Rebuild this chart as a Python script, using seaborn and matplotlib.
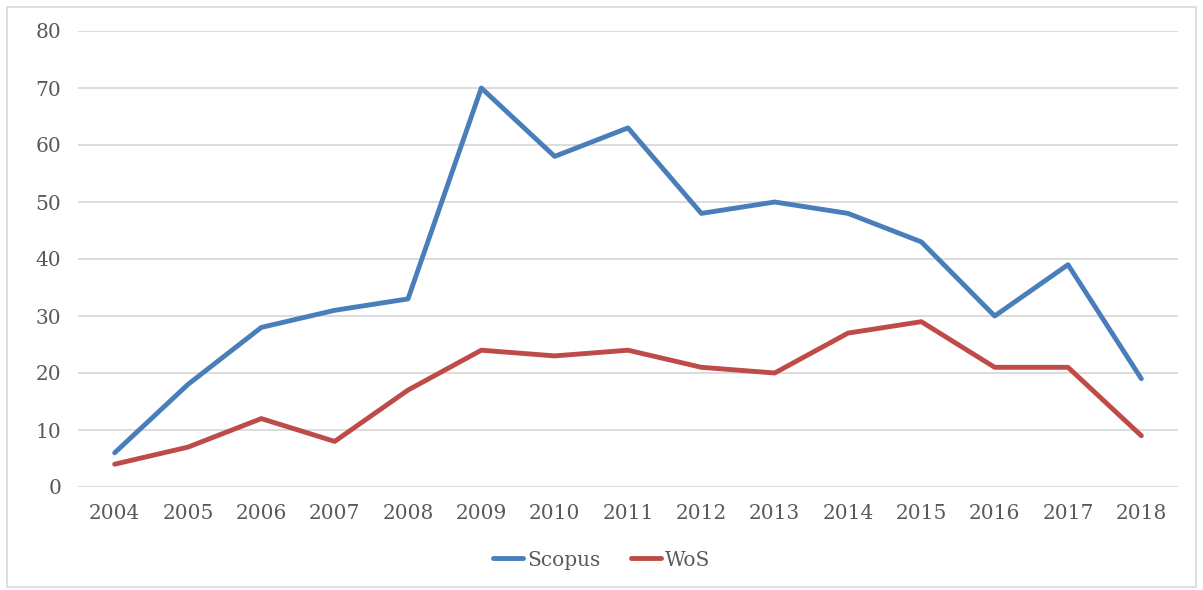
import numpy as np
import pandas as pd
import matplotlib
matplotlib.use("Agg")
import matplotlib.pyplot as plt
from matplotlib.patches import Rectangle
import seaborn as sns

years = ["2004", "2005", "2006", "2007", "2008", "2009", "2010", "2011",
         "2012", "2013", "2014", "2015", "2016", "2017", "2018"]
scopus = [6, 18, 28, 31, 33, 70, 58, 63, 48, 50, 48, 43, 30, 39, 19]
wos = [4, 7, 12, 8, 17, 24, 23, 24, 21, 20, 27, 29, 21, 21, 9]
series_names = ["Scopus", "WoS"]
colors = ["#4a7ebb", "#be4b48"]
y_ticks = [0, 10, 20, 30, 40, 50, 60, 70, 80]

df = pd.DataFrame({
    "pos": list(range(len(years))) * 2,
    "value": scopus + wos,
    "source": [series_names[0]] * len(years) + [series_names[1]] * len(years),
})

sns.set_theme(style="white")
plt.rcParams["font.family"] = ["DejaVu Serif"]

fig = plt.figure(figsize=(12.03, 5.90), dpi=100)
ax = fig.add_axes([78 / 1203, 103 / 590, 1100 / 1203, 456 / 590])

sns.lineplot(data=df, x="pos", y="value", hue="source",
             palette=dict(zip(series_names, colors)),
             linewidth=3.5, ax=ax, legend=False)

ax.set_xlim(-0.5, len(years) - 0.5)
ax.set_ylim(0, 80)
ax.set_yticks(y_ticks)
ax.set_xticks(range(len(years)))
ax.set_xticklabels(years)
ax.set_xlabel("")
ax.set_ylabel("")
ax.yaxis.grid(True, color="#d9d9d9", linewidth=1.3)
ax.set_axisbelow(True)
for s in ax.spines.values():
    s.set_visible(False)
ax.tick_params(axis="both", length=0, labelsize=14.5, labelcolor="#595959")
ax.tick_params(axis="x", pad=12)
ax.tick_params(axis="y", pad=12)

handles = [plt.Line2D([], [], color=c, lw=3.5) for c in colors]
fig.legend(handles, series_names, loc="center", bbox_to_anchor=(0.5, 30 / 590),
           ncol=2, frameon=False, fontsize=14.5, handlelength=1.5,
           handletextpad=0.2, columnspacing=1.5, labelcolor="#595959")

fig.patches.append(Rectangle((7 / 1203, 3 / 590), 1189 / 1203, 580 / 590,
                             transform=fig.transFigure, fill=False,
                             edgecolor="#d9d9d9", linewidth=1.2))

fig.savefig("out.png", dpi=100)
